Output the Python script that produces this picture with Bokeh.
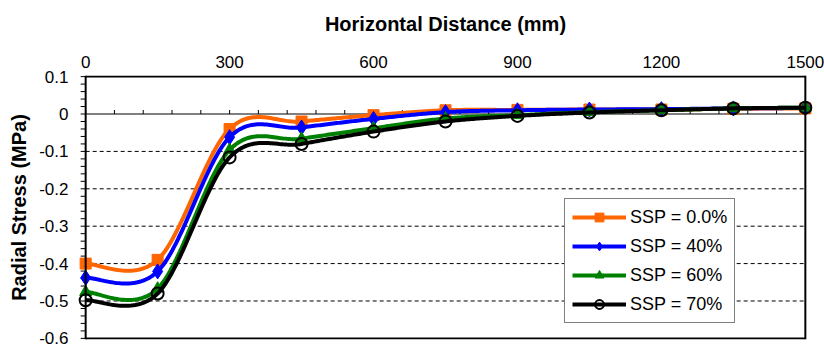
import numpy as np
from bokeh.plotting import figure
from bokeh.models import Range1d, FixedTicker, Span, Legend, LegendItem
from bokeh.embed import file_html
from bokeh.resources import INLINE

# Horizontal distance from the tunnel axis (mm)
distance = [0, 150, 300, 450, 600, 750, 900, 1050, 1200, 1350, 1500]

# Radial stress (MPa) for each soil saturation percentage
ssp_00 = [-0.400, -0.390, -0.040, -0.020, -0.003, 0.010, 0.011, 0.012, 0.012, 0.014, 0.015]
ssp_40 = [-0.438, -0.421, -0.062, -0.036, -0.013, 0.005, 0.010, 0.012, 0.013, 0.015, 0.016]
ssp_60 = [-0.476, -0.467, -0.096, -0.066, -0.038, -0.012, -0.003, 0.005, 0.010, 0.015, 0.017]
ssp_70 = [-0.498, -0.480, -0.116, -0.080, -0.047, -0.020, -0.005, 0.004, 0.010, 0.015, 0.017]

labels = ["SSP = 0.0%", "SSP = 40%", "SSP = 60%", "SSP = 70%"]
colors = ["#FF6600", "#0000FF", "#008000", "#000000"]
markers = ["square", "diamond", "triangle", "circle"]
marker_sizes = [11, 15, 12, 12]

x_min, x_max = 0, 1500
y_min, y_max = -0.6, 0.1
x_ticks = [0, 300, 600, 900, 1200, 1500]
x_minor_step = 60
y_ticks = [-0.6, -0.5, -0.4, -0.3, -0.2, -0.1, 0.0, 0.1]
y_tick_labels = ["-0.6", "-0.5", "-0.4", "-0.3", "-0.2", "-0.1", "0", "0.1"]
y_minor_ticks = [round(-0.6 + 0.02 * k, 2) for k in range(36)]
grid_levels = [-0.5, -0.4, -0.3, -0.2, -0.1]


def smooth(xs, ys, n=40):
    """Cardinal (Catmull-Rom style) Bezier smoothing through the points."""
    pts = np.column_stack([xs, ys]).astype(float)
    out_x, out_y = [], []
    t = np.linspace(0, 1, n)
    for i in range(len(pts) - 1):
        p0 = pts[i - 1] if i > 0 else pts[i]
        p1 = pts[i]
        p2 = pts[i + 1]
        p3 = pts[i + 2] if i + 2 < len(pts) else pts[i + 1]
        c1 = p1 + (p2 - p0) / 6.0
        c2 = p2 - (p3 - p1) / 6.0
        b = ((1 - t) ** 3)[:, None] * p1 + (3 * (1 - t) ** 2 * t)[:, None] * c1 \
            + (3 * (1 - t) * t ** 2)[:, None] * c2 + (t ** 3)[:, None] * p2
        if i > 0:
            b = b[1:]
        out_x.extend(b[:, 0])
        out_y.extend(b[:, 1])
    return out_x, out_y


# the frame is padded a little on every side so end markers are not clipped;
# the plot-area box and its axis lines are drawn at the true data limits
x_pad = 17
y_pad = 0.003
border_l, border_r, border_t, border_b = 77, 11, 75, 8
p = figure(width=824, height=347, output_backend="svg", toolbar_location=None,
           x_range=Range1d(x_min - x_pad, x_max + x_pad),
           y_range=Range1d(y_min - y_pad, y_max + y_pad),
           x_axis_location="above",
           min_border_left=border_l, min_border_right=border_r,
           min_border_top=border_t, min_border_bottom=border_b)
p.background_fill_color = "white"
p.border_fill_color = "white"
p.outline_line_color = None
p.xgrid.visible = False
p.ygrid.visible = False

px_per_mm = (824 - border_l - border_r) / (x_max - x_min + 2 * x_pad)
px_per_mpa = (347 - border_t - border_b) / (y_max - y_min + 2 * y_pad)
tick_len_x = 5 / px_per_mm
tick_len_y = 4 / px_per_mpa

# top axis: labels only
xa = p.xaxis[0]
xa.ticker = FixedTicker(ticks=x_ticks)
xa.axis_label = "Horizontal Distance (mm)"
xa.axis_label_text_font = "Liberation Sans"
xa.axis_label_text_font_style = "bold"
xa.axis_label_text_font_size = "20px"
xa.axis_label_text_color = "black"
xa.axis_label_standoff = 18
xa.major_label_text_font = "Liberation Sans"
xa.major_label_text_font_size = "17px"
xa.major_label_text_color = "black"
xa.major_label_standoff = 8
xa.major_tick_out = 0
xa.major_tick_in = 0
xa.minor_tick_out = 0
xa.minor_tick_in = 0
xa.axis_line_color = None

# left axis: labels and title; its line and ticks are drawn at x = 0 below
ya = p.yaxis[0]
ya.ticker = FixedTicker(ticks=y_ticks)
ya.major_label_overrides = {v: s for v, s in zip(y_ticks, y_tick_labels)}
ya.axis_label = "Radial Stress (MPa)"
ya.axis_label_text_font = "Liberation Sans"
ya.axis_label_text_font_style = "bold"
ya.axis_label_text_font_size = "20px"
ya.axis_label_text_color = "black"
ya.axis_label_standoff = 6
ya.major_label_text_font = "Liberation Sans"
ya.major_label_text_font_size = "17px"
ya.major_label_text_color = "black"
ya.major_label_standoff = 9
ya.major_tick_out = 0
ya.major_tick_in = 0
ya.minor_tick_out = 0
ya.minor_tick_in = 0
ya.axis_line_color = None

# dashed gridlines
p.segment(x0=[x_min] * len(grid_levels), y0=grid_levels,
          x1=[x_max] * len(grid_levels), y1=grid_levels,
          line_color="black", line_width=1, line_dash="4 3")

# zero line with upward tick marks
zero_ticks = list(range(x_min, x_max + 1, x_minor_step))
p.segment(x0=[x_min], y0=[0], x1=[x_max], y1=[0], line_color="black", line_width=1)
p.segment(x0=zero_ticks, y0=[0] * len(zero_ticks), x1=zero_ticks,
          y1=[tick_len_y] * len(zero_ticks), line_color="black", line_width=1)

# value-axis ticks (outside, to the left of x = 0)
p.segment(x0=[x_min - tick_len_x] * len(y_minor_ticks), y0=y_minor_ticks,
          x1=[x_min] * len(y_minor_ticks), y1=y_minor_ticks,
          line_color="black", line_width=1)

# plot-area box
p.add_layout(Span(location=x_min, dimension="height", line_color="black", line_width=2))
p.add_layout(Span(location=x_max, dimension="height", line_color="black", line_width=2))
p.segment(x0=[x_min, x_min], y0=[y_min, y_max], x1=[x_max, x_max], y1=[y_min, y_max],
          line_color="black", line_width=2)

items = []
for ys, lab, col, mk, ms in zip([ssp_00, ssp_40, ssp_60, ssp_70], labels, colors, markers, marker_sizes):
    sx, sy = smooth(distance, ys)
    ln = p.line(sx, sy, line_color=col, line_width=4)
    if mk == "circle":
        sc = p.scatter(distance, ys, marker=mk, size=ms, line_color=col, line_width=2,
                       fill_alpha=0)
    else:
        sc = p.scatter(distance, ys, marker=mk, size=ms, line_color=col, fill_color=col)
    items.append(LegendItem(label=lab, renderers=[ln, sc]))

legend = Legend(items=items, location=(487, 16))
legend.label_text_font = "Liberation Sans"
legend.label_text_font_size = "18px"
legend.label_text_color = "black"
legend.glyph_width = 54
legend.glyph_height = 22
legend.label_height = 22
legend.label_standoff = 4
legend.spacing = 7
legend.padding = 7
legend.margin = 0
legend.border_line_color = "black"
legend.border_line_width = 1
legend.background_fill_alpha = 1
p.add_layout(legend, "center")

open("out.html", "w").write(file_html(p, INLINE))
